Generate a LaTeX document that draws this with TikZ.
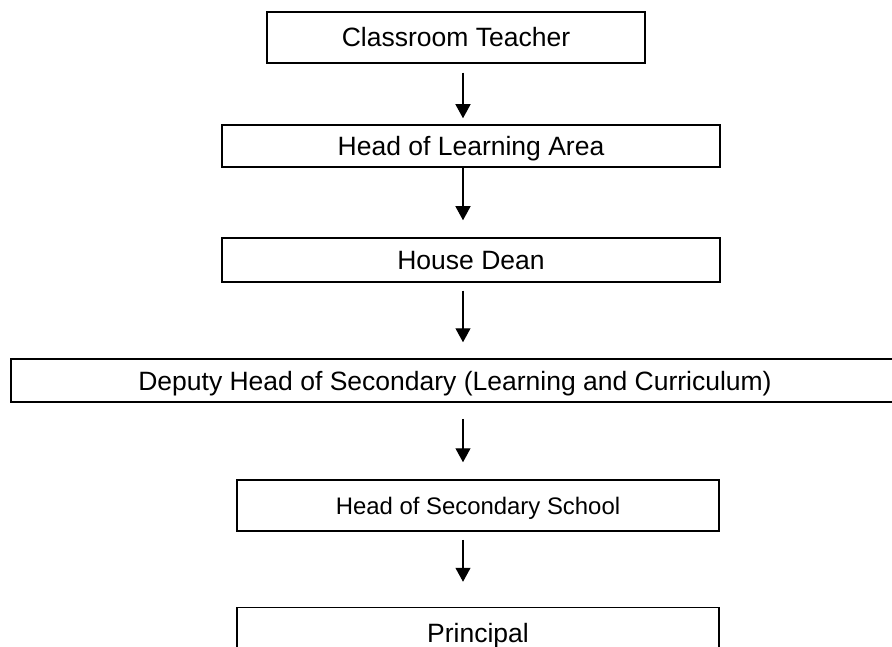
\documentclass[tikz,border=0pt]{standalone}
\usepackage{fontspec}
\setmainfont{Liberation Sans}
\usepackage{tikz}
\usetikzlibrary{arrows.meta,positioning}
\newcommand{\rolefont}{\fontsize{26.5pt}{30pt}\selectfont}
\newcommand{\smallrolefont}{\fontsize{23.9pt}{27pt}\selectfont}
\tikzstyle{rolebox} = [rectangle, draw=black, line width=1.5pt, inner sep=0pt, text height=19pt, text depth=0pt, text centered, font=\rolefont]
\tikzstyle{reportarrow} = [line width=1.2pt, -{Triangle[length=14pt,width=15pt]}]

\begin{document}
\begin{tikzpicture}[x=1pt,y=1pt]
\useasboundingbox (0,0) rectangle (892,-647);

% Roles, from the bottom of the line up
\node[rolebox, minimum width=378pt, minimum height=51pt] (teacher) at (456,-37.5) {Classroom Teacher};
\node[rolebox, minimum width=498pt, minimum height=42pt] (hola) at (471,-146) {Head of Learning Area};
\node[rolebox, minimum width=498pt, minimum height=44pt] (dean) at (471,-260) {House Dean};
\node[rolebox, minimum width=888pt, minimum height=43pt] (deputy) at (455,-380.5) {Deputy Head of Secondary (Learning and Curriculum)};
\node[rolebox, minimum width=482pt, minimum height=51pt, text height=17pt, font=\smallrolefont] (hos) at (478,-505.5) {Head of Secondary School};
\node[rolebox, minimum width=482pt, minimum height=51pt] (principal) at (478,-633) {Principal};

% Arrows all run down one line
\coordinate (axis) at (463,0);

\draw[reportarrow, shorten <=9pt, shorten >=6pt] (teacher.south -| axis) -- (hola.north -| axis);
\draw[reportarrow, shorten >=17pt] (hola.south -| axis) -- (dean.north -| axis);
\draw[reportarrow, shorten <=8pt, shorten >=16pt] (dean.south -| axis) -- (deputy.north -| axis);
\draw[reportarrow, shorten <=16pt, shorten >=17pt] (deputy.south -| axis) -- (hos.north -| axis);
\draw[reportarrow, shorten <=8pt, shorten >=25pt] (hos.south -| axis) -- (principal.north -| axis);
\end{tikzpicture}
\end{document}
